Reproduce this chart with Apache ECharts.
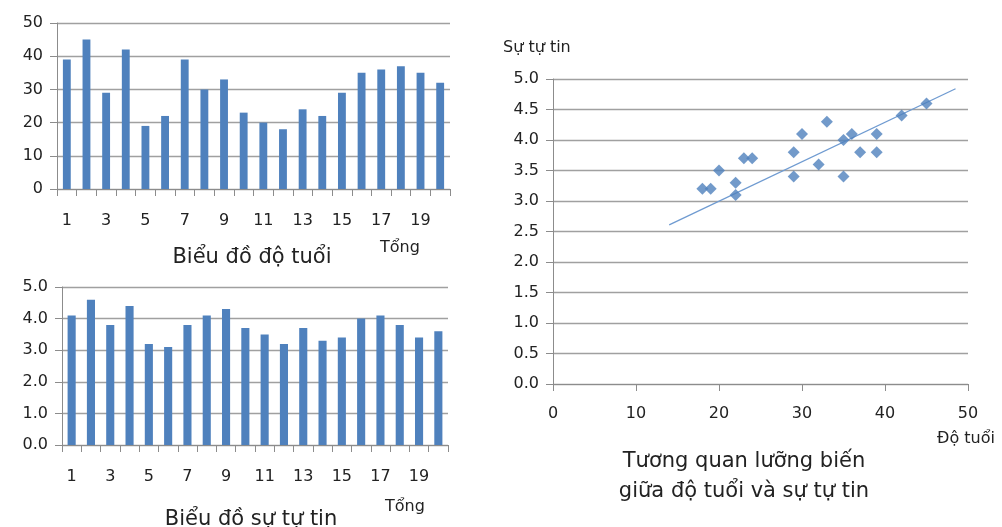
<!DOCTYPE html>
<html>
<head>
<meta charset="utf-8">
<script src="https://cdn.jsdelivr.net/npm/echarts@6/dist/echarts.min.js"></script>
<style>
  html, body { margin: 0; padding: 0; background: #fff; }
  #chart { width: 1002px; height: 527px; }
</style>
</head>
<body>
<div id="chart"></div>
<script>
// Participant numbers 1..20
const categories = ['1','2','3','4','5','6','7','8','9','10','11','12','13','14','15','16','17','18','19','20'];
// Age of each participant
const ages = [39, 45, 29, 42, 19, 22, 39, 30, 33, 23, 20, 18, 24, 22, 29, 35, 36, 37, 35, 32];
// Self-confidence score of each participant
const confidence = [4.1, 4.6, 3.8, 4.4, 3.2, 3.1, 3.8, 4.1, 4.3, 3.7, 3.5, 3.2, 3.7, 3.3, 3.4, 4.0, 4.1, 3.8, 3.4, 3.6];
// Trend line end points [age, confidence]
const trendStart = [14, 2.61];
const trendEnd = [48.5, 4.84];

const FONT = '"DejaVu Sans", "Noto Sans", sans-serif';
const TEXT = '#222';
const GRID = '#a0a0a0';
const AXIS = '#8c8c8c';
const BAR = '#4f81bd';

const scatterPoints = ages.map((a, i) => [a, confidence[i]]);

const chart = echarts.init(document.getElementById('chart'), null, { renderer: 'canvas' });

function catAxis(gridIndex, margin) {
  return {
    type: 'category', gridIndex, data: categories,
    axisLine: { lineStyle: { color: AXIS, width: 1 } },
    axisTick: { show: true, alignWithLabel: false, interval: 0, length: 7, lineStyle: { color: AXIS } },
    axisLabel: { interval: 1, color: TEXT, fontFamily: FONT, fontSize: 16, margin }
  };
}
function valAxis(gridIndex, max, interval, digits) {
  return {
    type: 'value', gridIndex, min: 0, max, interval,
    axisLine: { show: true, lineStyle: { color: AXIS, width: 1 } },
    axisTick: { show: true, length: 7, lineStyle: { color: AXIS } },
    splitLine: { lineStyle: { color: GRID, width: 1.3 } },
    axisLabel: { color: TEXT, fontFamily: FONT, fontSize: 16, margin: 14,
      formatter: v => v.toFixed(digits) }
  };
}
function label(text, left, top, size, extra) {
  return Object.assign({ text, left, top, padding: 0,
    textStyle: { fontFamily: FONT, fontSize: size, fontWeight: 'normal', color: TEXT } }, extra || {});
}

const option = {
  animation: false,
  backgroundColor: '#fff',
  textStyle: { fontFamily: FONT },
  title: [
    label('Biểu đồ độ tuổi', 252, 247, 21, { textAlign: 'center' }),
    label('Tổng', 380, 240, 16),
    label('Biểu đồ sự tự tin', 251, 509, 21, { textAlign: 'center' }),
    label('Tổng', 385, 499, 16),
    label('Sự tự tin', 503, 40, 16),
    label('Độ tuổi', 937, 431, 16),
    { text: 'Tương quan lưỡng biến\ngiữa độ tuổi và sự tự tin', left: 744, top: 447, textAlign: 'center', padding: 0,
      textStyle: { fontFamily: FONT, fontSize: 21, fontWeight: 'normal', color: TEXT, lineHeight: 30 } }
  ],
  grid: [
    { left: 57, top: 23, width: 393, height: 166 },
    { left: 62, top: 287, width: 386, height: 158 },
    { left: 553, top: 79, width: 415, height: 305 }
  ],
  xAxis: [
    catAxis(0, 24),
    catAxis(1, 24),
    {
      type: 'value', gridIndex: 2, min: 0, max: 50, interval: 10,
      axisLine: { show: true, lineStyle: { color: AXIS } },
      axisTick: { show: true, length: 7, lineStyle: { color: AXIS } },
      splitLine: { show: false },
      axisLabel: { color: TEXT, fontFamily: FONT, fontSize: 16, margin: 22 }
    }
  ],
  yAxis: [
    valAxis(0, 50, 10, 0),
    valAxis(1, 5, 1, 1),
    valAxis(2, 5, 0.5, 1)
  ],
  series: [
    { type: 'bar', xAxisIndex: 0, yAxisIndex: 0, data: ages, barWidth: '40%',
      itemStyle: { color: BAR } },
    { type: 'bar', xAxisIndex: 1, yAxisIndex: 1, data: confidence, barWidth: '42%',
      itemStyle: { color: BAR } },
    { type: 'line', xAxisIndex: 2, yAxisIndex: 2, data: [trendStart, trendEnd],
      showSymbol: false, symbol: 'none', z: 1,
      lineStyle: { color: '#6f9bd1', width: 1.3 } },
    { type: 'scatter', xAxisIndex: 2, yAxisIndex: 2, data: scatterPoints,
      symbol: 'diamond', symbolSize: 12, z: 3,
      itemStyle: { color: BAR } }
  ]
};

chart.setOption(option);
</script>
</body>
</html>
